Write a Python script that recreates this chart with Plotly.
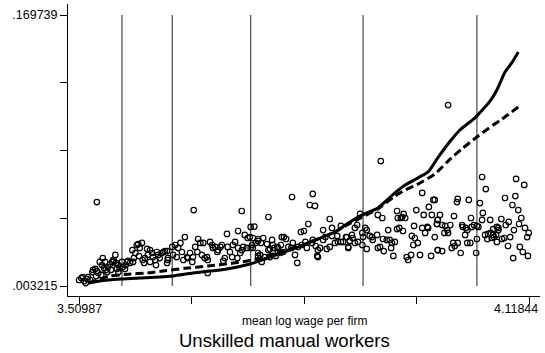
import plotly.graph_objects as go

# Firm-level observations: mean log wage (x) and employment share (y)
firm_x = [
    3.534, 3.510, 3.513, 3.515, 3.517, 3.521, 3.522, 3.525, 3.519, 3.528, 3.529, 3.532, 3.534, 3.536,
    3.538, 3.541, 3.542, 3.544, 3.546, 3.548, 3.549, 3.552, 3.555, 3.556, 3.557, 3.560, 3.561, 3.563,
    3.563, 3.568, 3.569, 3.572, 3.575, 3.576, 3.579, 3.582, 3.583, 3.586, 3.588, 3.590, 3.592, 3.595,
    3.596, 3.599, 3.602, 3.603, 3.606, 3.609, 3.610, 3.613, 3.615, 3.617, 3.619, 3.622, 3.624, 3.626,
    3.629, 3.630, 3.533, 3.540, 3.553, 3.565, 3.573, 3.584, 3.598, 3.606, 3.614, 3.545, 3.559, 3.591,
    3.665, 3.730, 3.629, 3.630, 3.636, 3.637, 3.640, 3.642, 3.644, 3.647, 3.649, 3.651, 3.653, 3.656,
    3.657, 3.660, 3.663, 3.664, 3.667, 3.670, 3.671, 3.674, 3.676, 3.678, 3.680, 3.683, 3.684, 3.684,
    3.687, 3.690, 3.691, 3.694, 3.697, 3.698, 3.701, 3.703, 3.705, 3.707, 3.710, 3.711, 3.714, 3.717,
    3.718, 3.721, 3.724, 3.725, 3.725, 3.728, 3.730, 3.732, 3.734, 3.737, 3.738, 3.741, 3.744, 3.745,
    3.747, 3.749, 3.752, 3.752,
    3.798, 3.826, 3.822, 3.829, 3.766, 3.820, 3.849, 3.742, 3.810, 3.814, 3.840, 3.852, 3.864, 3.745,
    3.752, 3.759, 3.756, 3.764, 3.771, 3.772, 3.774, 3.768, 3.766, 3.778, 3.779, 3.783, 3.784, 3.787,
    3.790, 3.793, 3.797, 3.799, 3.806, 3.811, 3.816, 3.818, 3.825, 3.826, 3.830, 3.833, 3.836, 3.840,
    3.843, 3.845, 3.849, 3.852, 3.856, 3.859, 3.860, 3.864, 3.867, 3.871, 3.874, 3.742, 3.752, 3.755,
    3.757, 3.761, 3.768, 3.772, 3.776, 3.782, 3.786, 3.802, 3.805, 3.832, 3.833,
    3.918, 3.974, 3.989, 3.983, 3.966, 3.940, 3.949, 3.890, 3.914, 3.920, 3.941, 3.945, 3.947, 3.951,
    3.976, 3.987, 3.994, 3.995, 3.963, 3.974, 3.981, 3.982, 3.928, 3.940, 3.943, 3.948, 3.897, 3.899,
    3.883, 3.886, 3.879, 3.872, 3.876, 3.880, 3.893, 3.894, 3.903, 3.906, 3.913, 3.887, 3.893, 3.899,
    3.874, 3.883, 3.907, 3.914, 3.917, 3.921, 3.926, 3.930, 3.933, 3.937, 3.922, 3.932, 3.960, 3.964,
    3.968, 3.978, 3.991, 3.962, 3.935, 3.953, 3.955, 3.959, 3.971, 3.986, 3.995,
    4.009, 4.055, 4.101, 4.112, 4.060, 4.086, 4.100, 4.022, 4.021, 4.037, 4.052, 4.096, 4.104, 3.991,
    4.056, 3.998, 4.017, 4.040, 3.995, 4.055, 4.066, 4.081, 4.091, 4.108, 3.994, 4.001, 4.005, 4.012,
    4.008, 4.004, 4.009, 4.028, 4.029, 4.033, 4.035, 4.041, 4.044, 4.048, 4.050, 4.075, 4.077, 4.087,
    4.105, 4.113, 4.118, 4.116, 4.098, 4.032, 4.059, 4.063, 4.067, 4.070, 4.071, 4.062, 4.068, 4.075,
    4.082, 4.085, 4.093, 4.048, 4.039, 4.035, 4.022, 4.016, 4.018, 4.014, 3.995, 4.001, 4.026, 4.047,
    4.090, 4.106, 4.110, 4.117, 4.097, 4.074, 4.077, 4.070,
]
firm_y = [
    0.0548, 0.0069, 0.0081, 0.0087, 0.0063, 0.0075, 0.0087, 0.0069, 0.0050, 0.0118, 0.0131, 0.0137, 0.0124, 0.0112,
    0.0180, 0.0161, 0.0204, 0.0143, 0.0131, 0.0118, 0.0149, 0.0167, 0.0180, 0.0192, 0.0186, 0.0174, 0.0137, 0.0118,
    0.0161, 0.0180, 0.0149, 0.0137, 0.0180, 0.0186, 0.0174, 0.0253, 0.0180, 0.0235, 0.0284, 0.0290, 0.0266, 0.0297,
    0.0192, 0.0204, 0.0260, 0.0223, 0.0180, 0.0235, 0.0210, 0.0192, 0.0241, 0.0223, 0.0204, 0.0235, 0.0241, 0.0247,
    0.0174, 0.0204, 0.0093, 0.0100, 0.0131, 0.0143, 0.0161, 0.0204, 0.0174, 0.0253, 0.0161, 0.0180, 0.0223, 0.0216,
    0.0499, 0.0493, 0.0247, 0.0192, 0.0272, 0.0223, 0.0284, 0.0210, 0.0266, 0.0297, 0.0241, 0.0192, 0.0333, 0.0210,
    0.0204, 0.0235, 0.0180, 0.0210, 0.0272, 0.0241, 0.0321, 0.0297, 0.0223, 0.0297, 0.0204, 0.0210, 0.0112, 0.0192,
    0.0303, 0.0284, 0.0266, 0.0272, 0.0241, 0.0253, 0.0272, 0.0284, 0.0186, 0.0204, 0.0352, 0.0272, 0.0241, 0.0210,
    0.0284, 0.0303, 0.0204, 0.0370, 0.0266, 0.0235, 0.0253, 0.0272, 0.0346, 0.0266, 0.0327, 0.0333, 0.0284, 0.0266,
    0.0397, 0.0297, 0.0321, 0.0235,
    0.0579, 0.0598, 0.0530, 0.0524, 0.0456, 0.0413, 0.0444, 0.0395, 0.0364, 0.0370, 0.0376, 0.0389, 0.0401, 0.0327,
    0.0309, 0.0327, 0.0297, 0.0290, 0.0315, 0.0284, 0.0266, 0.0260, 0.0253, 0.0272, 0.0266, 0.0284, 0.0333, 0.0333,
    0.0321, 0.0272, 0.0266, 0.0297, 0.0272, 0.0284, 0.0303, 0.0266, 0.0297, 0.0315, 0.0278, 0.0253, 0.0266, 0.0315,
    0.0333, 0.0260, 0.0272, 0.0340, 0.0297, 0.0340, 0.0303, 0.0303, 0.0303, 0.0333, 0.0272, 0.0266, 0.0217, 0.0223,
    0.0180, 0.0210, 0.0210, 0.0235, 0.0217, 0.0235, 0.0241, 0.0223, 0.0174, 0.0217, 0.0210,
    0.0800, 0.0604, 0.0561, 0.0518, 0.0499, 0.0493, 0.0475, 0.0475, 0.0469, 0.0450, 0.0450, 0.0450, 0.0456, 0.0450,
    0.0469, 0.0469, 0.0413, 0.0438, 0.0401, 0.0389, 0.0395, 0.0389, 0.0376, 0.0382, 0.0389, 0.0370, 0.0389, 0.0376,
    0.0389, 0.0407, 0.0346, 0.0333, 0.0309, 0.0327, 0.0358, 0.0333, 0.0340, 0.0333, 0.0346, 0.0303, 0.0284, 0.0260,
    0.0266, 0.0297, 0.0315, 0.0266, 0.0272, 0.0321, 0.0315, 0.0315, 0.0297, 0.0303, 0.0247, 0.0266, 0.0340, 0.0327,
    0.0297, 0.0358, 0.0333, 0.0284, 0.0217, 0.0210, 0.0192, 0.0223, 0.0223, 0.0217, 0.0253,
    0.1144, 0.0702, 0.0690, 0.0653, 0.0628, 0.0573, 0.0585, 0.0567, 0.0548, 0.0561, 0.0542, 0.0530, 0.0499, 0.0561,
    0.0481, 0.0469, 0.0462, 0.0450, 0.0438, 0.0438, 0.0438, 0.0444, 0.0426, 0.0450, 0.0413, 0.0407, 0.0401, 0.0407,
    0.0376, 0.0358, 0.0358, 0.0407, 0.0395, 0.0389, 0.0376, 0.0395, 0.0407, 0.0401, 0.0395, 0.0395, 0.0389, 0.0407,
    0.0413, 0.0389, 0.0358, 0.0333, 0.0376, 0.0346, 0.0346, 0.0352, 0.0358, 0.0346, 0.0333, 0.0321, 0.0327, 0.0303,
    0.0321, 0.0327, 0.0333, 0.0321, 0.0297, 0.0297, 0.0297, 0.0297, 0.0278, 0.0266, 0.0253, 0.0247, 0.0235, 0.0235,
    0.0278, 0.0272, 0.0241, 0.0217, 0.0204, 0.0346, 0.0376, 0.0382,
]

# Fitted curves (solid and dashed)
fit_solid_x = [3.523, 3.538, 3.567, 3.592, 3.619, 3.637, 3.664, 3.687, 3.710, 3.741, 3.768, 3.795, 3.816,
               3.836, 3.856, 3.870, 3.893, 3.914, 3.937, 3.951, 3.968, 3.982, 3.995, 4.012, 4.025, 4.045,
               4.059, 4.066, 4.075, 4.086, 4.096, 4.104]
fit_solid_y = [0.0051, 0.0063, 0.0075, 0.0081, 0.0087, 0.0094, 0.0112, 0.0124, 0.0137, 0.0167, 0.0210, 0.0253,
               0.0290, 0.0327, 0.0364, 0.0407, 0.0469, 0.0512, 0.0604, 0.0653, 0.0696, 0.0733, 0.0819, 0.0923,
               0.0991, 0.1064, 0.1132, 0.1169, 0.1237, 0.1347, 0.1409, 0.1470]
fit_dash_x = [3.523, 3.538, 3.552, 3.572, 3.606, 3.626, 3.653, 3.684, 3.717, 3.741, 3.755, 3.768, 3.795,
              3.816, 3.836, 3.856, 3.870, 3.893, 3.914, 3.937, 3.951, 3.971, 3.991, 4.009, 4.029, 4.048,
              4.070, 4.082, 4.104]
fit_dash_y = [0.0051, 0.0075, 0.0094, 0.0103, 0.0114, 0.0126, 0.0141, 0.0155, 0.0172, 0.0189, 0.0204, 0.0223,
              0.0260, 0.0290, 0.0327, 0.0364, 0.0401, 0.0456, 0.0505, 0.0585, 0.0622, 0.0665, 0.0720, 0.0800,
              0.0880, 0.0948, 0.1021, 0.1058, 0.1132]

# Cut points marked with vertical lines
cutoffs = [3.568, 3.636, 3.742, 3.894, 4.048]

x_min, x_max = 3.50987, 4.11844
y_min, y_max = 0.003215, 0.169739
x_labels = ["3.50987", "4.11844"]
y_labels = [".003215", "", "", "", ".169739"]
x_ticks = [x_min + i * (x_max - x_min) / 4 for i in range(5)]
y_ticks = [y_min + i * (y_max - y_min) / 4 for i in range(5)]

font_family = "Liberation Sans, Arial, sans-serif"

fig = go.Figure()

for c in cutoffs:
    fig.add_shape(type="line", x0=c, x1=c, y0=y_min, y1=y_max, xref="x", yref="y",
                  line=dict(color="#555555", width=1.3), layer="below")

fig.add_trace(go.Scatter(
    x=firm_x, y=firm_y, mode="markers",
    marker=dict(symbol="circle-open", size=5.5, color="black", line=dict(width=1.2, color="black")),
    showlegend=False, hoverinfo="skip"))

fig.add_trace(go.Scatter(
    x=fit_dash_x, y=fit_dash_y, mode="lines",
    line=dict(color="black", width=3, dash="8px,4px", shape="spline", smoothing=0.6),
    showlegend=False, hoverinfo="skip"))

fig.add_trace(go.Scatter(
    x=fit_solid_x, y=fit_solid_y, mode="lines",
    line=dict(color="black", width=3, shape="spline", smoothing=0.6),
    showlegend=False, hoverinfo="skip"))

axis_common = dict(showgrid=False, zeroline=False, showline=True, linecolor="black", linewidth=1,
                   ticks="outside", tickcolor="black", tickwidth=1, ticklen=7,
                   tickfont=dict(family=font_family, size=12.5, color="black"))

fig.update_xaxes(range=[3.4950, 4.1333], tickmode="array", tickvals=x_ticks,
                 ticktext=[""] * len(x_ticks), **axis_common)
fig.update_yaxes(range=[-0.00293, 0.17650], tickmode="array", tickvals=y_ticks, ticktext=y_labels,
                 **axis_common)

# End labels of the x axis (the right one is kept inside the page edge)
label_font = dict(family=font_family, size=12.5, color="black")
fig.add_annotation(text=x_labels[0], xref="x", yref="paper", x=x_min, y=-0.0445,
                   xanchor="center", yanchor="middle", showarrow=False, font=label_font)
fig.add_annotation(text=x_labels[1], xref="paper", yref="paper", x=1.0, y=-0.0445,
                   xanchor="right", yanchor="middle", showarrow=False, font=label_font)

fig.add_annotation(text="mean log wage per firm", xref="paper", yref="paper", x=0.502, y=-0.0856,
                   xanchor="center", yanchor="middle", showarrow=False,
                   font=dict(family=font_family, size=12, color="black"))
fig.add_annotation(text="Unskilled manual workers", xref="paper", yref="paper", x=0.4587, y=-0.1507,
                   xanchor="center", yanchor="middle", showarrow=False,
                   font=dict(family=font_family, size=18.5, color="black"))

fig.update_layout(width=545, height=353, margin=dict(l=68, r=5, t=4, b=57),
                  plot_bgcolor="white", paper_bgcolor="white", showlegend=False)

fig.write_html("out.html")
